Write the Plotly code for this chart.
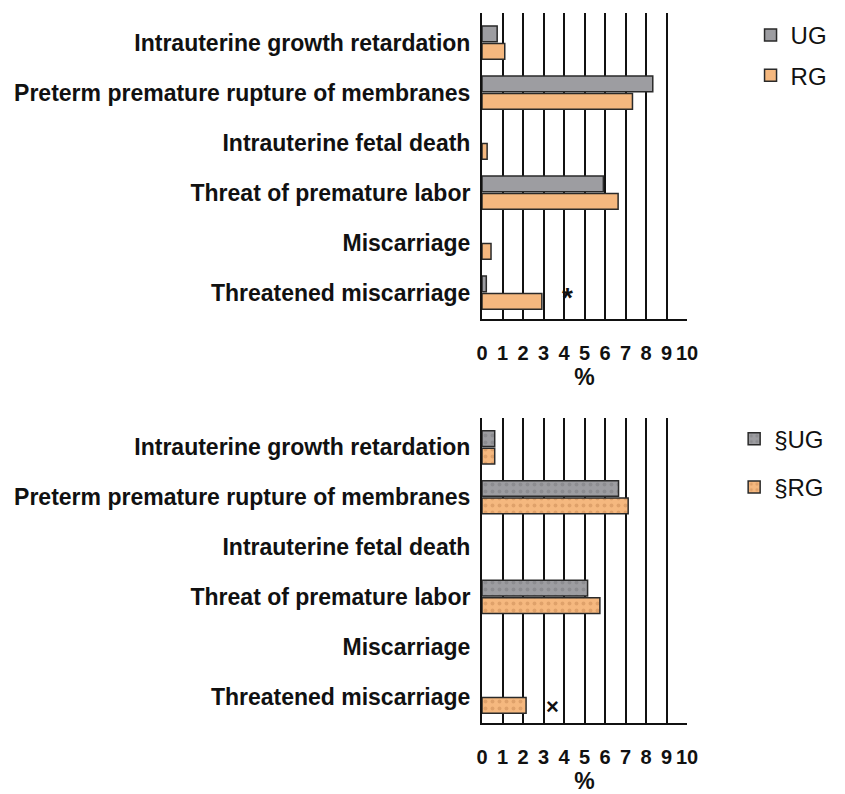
import plotly.graph_objects as go
from plotly.subplots import make_subplots

categories = [
    "Intrauterine growth retardation",
    "Preterm premature rupture of membranes",
    "Intrauterine fetal death",
    "Threat of premature labor",
    "Miscarriage",
    "Threatened miscarriage",
]
top_ug = [0.74, 8.33, 0, 5.92, 0, 0.21]
top_rg = [1.11, 7.34, 0.25, 6.64, 0.44, 2.92]
bot_ug = [0.62, 6.66, 0, 5.15, 0, 0]
bot_rg = [0.62, 7.13, 0, 5.75, 0, 2.15]
x_ticks = list(range(0, 11))
grid_vals = list(range(1, 10))

FONT = "Liberation Sans, Arial, sans-serif"
GRAY = "#9d9da1"
ORANGE = "#f5b87f"
EDGE = "#2a2a2a"


def edge_widths(vals):
    return [1.5 if v > 0 else 0 for v in vals]


fig = make_subplots(rows=2, cols=1, vertical_spacing=0.14)

fig.add_trace(go.Bar(y=categories, x=top_ug, orientation="h", name="UG",
                     marker=dict(color=GRAY, line=dict(color=EDGE, width=edge_widths(top_ug))),
                     legend="legend", legendgroup="a"), row=1, col=1)
fig.add_trace(go.Bar(y=categories, x=top_rg, orientation="h", name="RG",
                     marker=dict(color=ORANGE, line=dict(color=EDGE, width=edge_widths(top_rg))),
                     legend="legend", legendgroup="b"), row=1, col=1)
fig.add_trace(go.Bar(y=categories, x=bot_ug, orientation="h", name="§UG",
                     marker=dict(color=GRAY, line=dict(color=EDGE, width=edge_widths(bot_ug)),
                                 pattern=dict(shape=".", fgcolor="#7c7c80", size=7, solidity=0.25)),
                     legend="legend2", legendgroup="c"), row=2, col=1)
fig.add_trace(go.Bar(y=categories, x=bot_rg, orientation="h", name="§RG",
                     marker=dict(color=ORANGE, line=dict(color=EDGE, width=edge_widths(bot_rg)),
                                 pattern=dict(shape=".", fgcolor="#c98a55", size=7, solidity=0.25)),
                     legend="legend2", legendgroup="d"), row=2, col=1)

xaxis_common = dict(
    range=[0, 10], tickvals=x_ticks, showgrid=False, zeroline=False,
    showline=True, linecolor="#111", linewidth=2, ticks="",
    ticklabelstandoff=15, automargin=False,
    tickfont=dict(family=FONT, size=20, color="#111", weight="bold"),
    title=dict(text="%", font=dict(family=FONT, size=23, color="#111", weight="bold"), standoff=0),
    minor=dict(tickvals=grid_vals, showgrid=True, gridcolor="#111", gridwidth=1.5, ticks=""),
)
yaxis_common = dict(
    range=[5.53, -0.59], showgrid=False, zeroline=False,
    showline=True, linecolor="#111", linewidth=2, ticks="",
    ticklabelstandoff=5, automargin=False,
    tickfont=dict(family=FONT, size=23, color="#111", weight="bold"),
)

fig.update_xaxes(**xaxis_common)
fig.update_yaxes(**yaxis_common)

fig.update_layout(
    width=837, height=786,
    margin=dict(l=474, r=158, t=5, b=71, autoexpand=False),
    paper_bgcolor="white", plot_bgcolor="white",
    barmode="group", bargap=0.3, bargroupgap=0.1,
    xaxis=dict(domain=[0, 1]), yaxis=dict(domain=[0.569, 1.0]),
    xaxis2=dict(domain=[0, 1]), yaxis2=dict(domain=[0.0, 0.4296]),
    legend=dict(x=1.31, y=1.0, xanchor="left", yanchor="top",
                font=dict(family=FONT, size=24, color="#111"),
                tracegroupgap=6, bgcolor="rgba(0,0,0,0)"),
    legend2=dict(x=1.23, y=0.4315, xanchor="left", yanchor="top",
                 font=dict(family=FONT, size=24, color="#111"),
                 tracegroupgap=14, bgcolor="rgba(0,0,0,0)"),
    showlegend=True,
)

fig.add_annotation(x=4.15, y=5.1, xref="x", yref="y", text="*", showarrow=False,
                   font=dict(family=FONT, size=28, color="#111", weight="bold"))
fig.add_annotation(x=3.45, y=5.2, xref="x2", yref="y2", text="×", showarrow=False,
                   font=dict(family=FONT, size=22, color="#111", weight="bold"))

fig.write_html("out.html")
